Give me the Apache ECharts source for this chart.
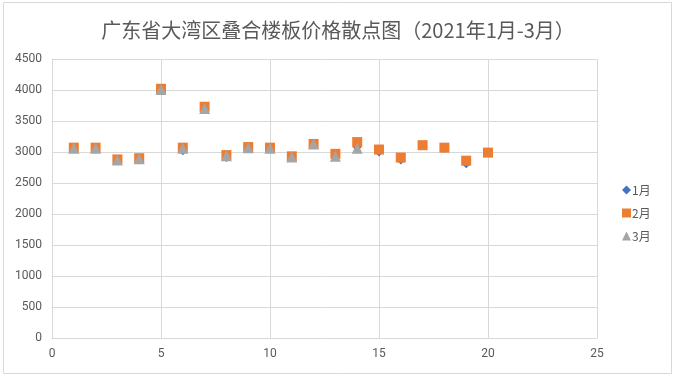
<!DOCTYPE html>
<html><head><meta charset="utf-8">
<script src="https://cdn.jsdelivr.net/npm/echarts@6/dist/echarts.min.js"></script>
<style>html,body{margin:0;padding:0;background:#fff}#c{width:676px;height:381px}</style>
</head><body><div id="c"></div>
<script>
const titleText = '广东省大湾区叠合楼板价格散点图（2021年1月-3月）';
const seriesNames = ['1月', '2月', '3月'];
const xJan = [1,2,3,4,5,6,7,8,9,10,11,12,13,14,15,16,17,18,19,20];
const janValues = [3060,3060,2870,2890,4020,3020,3730,2910,3070,3060,2920,3130,2950,3080,3000,2870,3100,3060,2810,2990];
const xFeb = [1,2,3,4,5,6,7,8,9,10,11,12,13,14,15,16,17,18,19,20];
const febValues = [3070,3070,2880,2900,4020,3070,3730,2950,3080,3070,2930,3130,2970,3160,3040,2910,3110,3070,2860,2990];
const xMar = [1,2,3,4,5,6,7,8,9,10,11,12,13,14];
const marValues = [3060,3060,2870,2890,4010,3060,3700,2940,3070,3060,2920,3130,2930,3060];
const colors = ['#4472C4', '#ED7D31', '#A5A5A5'];
const symbols = ['diamond', 'rect', 'triangle'];
const sizes = [9, 10, 11];

function pairs(xs, ys){ return xs.map((x,i)=>[x, ys[i]]); }
const dataSets = [pairs(xJan, janValues), pairs(xFeb, febValues), pairs(xMar, marValues)];

const chart = echarts.init(document.getElementById('c'), null, {renderer:'canvas'});
chart.setOption({
  animation: false,
  backgroundColor: '#fff',
  graphic: [{type:'rect', shape:{x:3.5, y:2.5, width:668, height:371}, style:{fill:'none', stroke:'#D9D9D9', lineWidth:1}}],
  title: {text: titleText, left: 'center', top: 15,
    textStyle: {fontSize: 20, fontWeight: 'normal', color: '#595959', fontFamily: '"Noto Sans CJK SC", sans-serif'}},
  legend: {orient: 'vertical', left: 617, top: 179, itemGap: 11, itemWidth: 9, itemHeight: 9,
    textStyle: {color: '#595959', fontSize: 12, fontFamily: '"Noto Sans CJK SC", sans-serif', padding:[0,0,0,-4]},
    data: seriesNames.map((n,i)=>({name:n, icon: symbols[i]}))},
  grid: {left: 52, right: 79, top: 59, bottom: 43, containLabel: false},
  xAxis: {type: 'value', min: 0, max: 25, interval: 5,
    axisLine: {show: true, lineStyle: {color: '#D9D9D9'}},
    axisTick: {show: false},
    axisLabel: {color: '#595959', fontSize: 12, margin: 10, fontFamily: 'Roboto, sans-serif', formatter: v => String(v)},
    splitLine: {show: true, lineStyle: {color: '#D9D9D9'}}},
  yAxis: {type: 'value', min: 0, max: 4500, interval: 500,
    axisLine: {show: true, lineStyle: {color: '#D9D9D9'}},
    axisTick: {show: false},
    axisLabel: {color: '#595959', fontSize: 12, margin: 10, fontFamily: 'Roboto, sans-serif', formatter: v => String(v)},
    splitLine: {show: true, lineStyle: {color: '#D9D9D9'}}},
  series: seriesNames.map((n,i)=>({
    name: n, type: 'scatter', data: dataSets[i], symbol: symbols[i], symbolSize: sizes[i],
    itemStyle: {color: colors[i], opacity: 1}, z: 2 + i
  }))
});
</script></body></html>
